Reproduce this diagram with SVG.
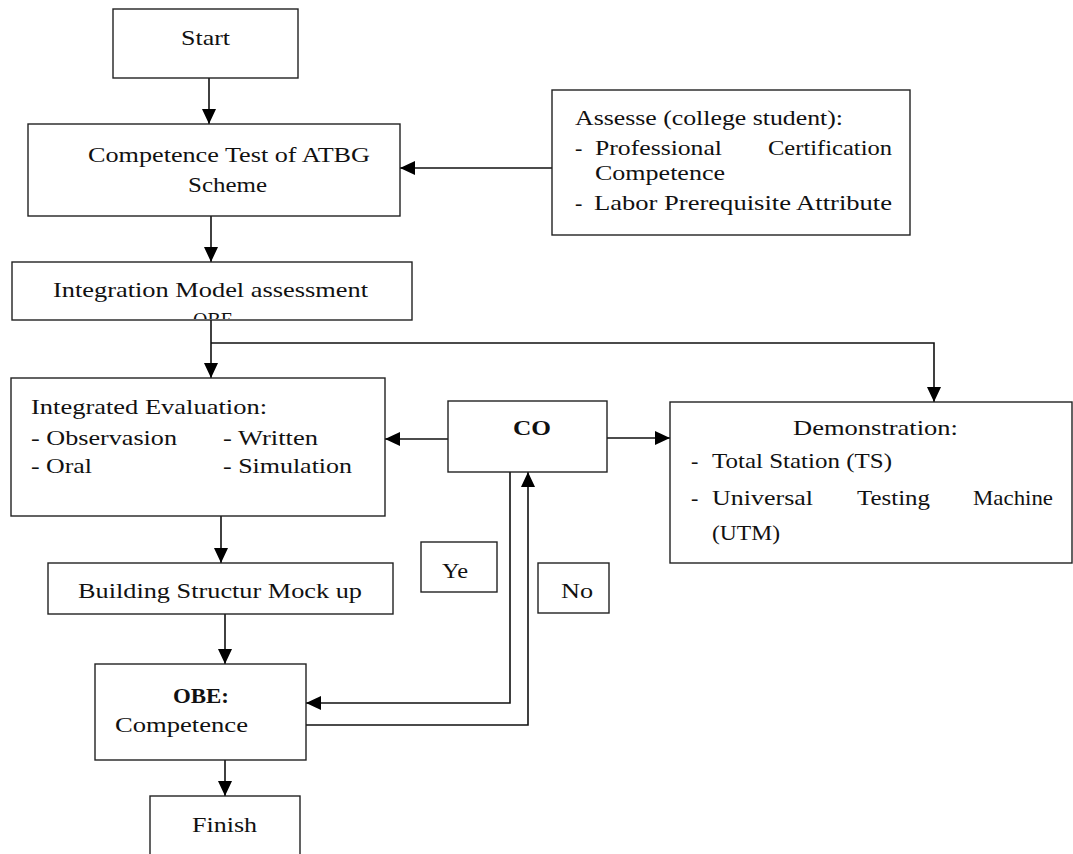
<svg xmlns="http://www.w3.org/2000/svg" width="1073" height="854" viewBox="0 0 1073 854">
<style>
.box{fill:#fff;stroke:#222;stroke-width:1.4}
.t{font-family:"Liberation Serif","Times New Roman",serif;font-size:22px;fill:#111}
.b{font-weight:bold}
.c{fill:none;stroke:#111;stroke-width:1.6}
</style>
<defs>
<marker id="ah" markerUnits="userSpaceOnUse" markerWidth="16" markerHeight="14" refX="15" refY="7" orient="auto">
<path d="M0,0 L15,7 L0,14 z" fill="#000"/>
</marker>
<clipPath id="clipInt"><rect x="12" y="262" width="400" height="57"/></clipPath>
</defs>
<rect width="1073" height="854" fill="#fff"/>

<g id="connectors">
<line class="c" x1="209" y1="78" x2="209" y2="124" marker-end="url(#ah)"/>
<line class="c" x1="211" y1="216" x2="211" y2="262" marker-end="url(#ah)"/>
<line class="c" x1="211" y1="320" x2="211" y2="378" marker-end="url(#ah)"/>
<polyline class="c" points="211,343 934,343 934,402" marker-end="url(#ah)"/>
<line class="c" x1="552" y1="168" x2="400" y2="168" marker-end="url(#ah)"/>
<line class="c" x1="448" y1="439" x2="385" y2="439" marker-end="url(#ah)"/>
<line class="c" x1="607" y1="438" x2="670" y2="438" marker-end="url(#ah)"/>
<line class="c" x1="221" y1="516" x2="221" y2="563" marker-end="url(#ah)"/>
<line class="c" x1="225" y1="614" x2="225" y2="664" marker-end="url(#ah)"/>
<polyline class="c" points="510,472 510,703 306,703" marker-end="url(#ah)"/>
<polyline class="c" points="306,725 528,725 528,472" marker-end="url(#ah)"/>
<line class="c" x1="225" y1="760" x2="225" y2="796" marker-end="url(#ah)"/>
</g>

<g id="start">
<rect class="box" x="113" y="9" width="185" height="69"/>
<text class="t" x="181" y="45" textLength="49" lengthAdjust="spacingAndGlyphs">Start</text>
</g>

<g id="competence-test">
<rect class="box" x="28" y="124" width="372" height="92"/>
<text class="t" x="88" y="162" textLength="282" lengthAdjust="spacingAndGlyphs">Competence Test of ATBG</text>
<text class="t" x="188" y="192" textLength="79" lengthAdjust="spacingAndGlyphs">Scheme</text>
</g>

<g id="assesse">
<rect class="box" x="552" y="90" width="358" height="145"/>
<text class="t" x="575" y="125" textLength="268" lengthAdjust="spacingAndGlyphs">Assesse (college student):</text>
<text class="t" x="575" y="155">-</text>
<text class="t" x="595" y="155" textLength="127" lengthAdjust="spacingAndGlyphs">Professional</text>
<text class="t" x="768" y="155" textLength="124" lengthAdjust="spacingAndGlyphs">Certification</text>
<text class="t" x="595" y="180" textLength="130" lengthAdjust="spacingAndGlyphs">Competence</text>
<text class="t" x="575" y="210">-</text>
<text class="t" x="594" y="210" textLength="298" lengthAdjust="spacingAndGlyphs">Labor Prerequisite Attribute</text>
</g>

<g id="integration-model">
<rect class="box" x="12" y="262" width="400" height="58"/>
<text class="t" x="53" y="297" textLength="315" lengthAdjust="spacingAndGlyphs">Integration Model assessment</text>
<text class="t" x="193" y="327" textLength="40" lengthAdjust="spacingAndGlyphs" clip-path="url(#clipInt)">OBE</text>
</g>

<g id="integrated-evaluation">
<rect class="box" x="11" y="378" width="374" height="138"/>
<text class="t" x="31" y="414" textLength="236" lengthAdjust="spacingAndGlyphs">Integrated Evaluation:</text>
<text class="t" x="31" y="445" textLength="146" lengthAdjust="spacingAndGlyphs">- Observasion</text>
<text class="t" x="223" y="445" textLength="95" lengthAdjust="spacingAndGlyphs">- Written</text>
<text class="t" x="31" y="473" textLength="61" lengthAdjust="spacingAndGlyphs">- Oral</text>
<text class="t" x="223" y="473" textLength="129" lengthAdjust="spacingAndGlyphs">- Simulation</text>
</g>

<g id="co">
<rect class="box" x="448" y="401" width="159" height="71"/>
<text class="t b" x="513" y="435" textLength="38" lengthAdjust="spacingAndGlyphs">CO</text>
</g>

<g id="demonstration">
<rect class="box" x="670" y="402" width="402" height="161"/>
<text class="t" x="793" y="435" textLength="165" lengthAdjust="spacingAndGlyphs">Demonstration:</text>
<text class="t" x="691" y="468">-</text>
<text class="t" x="712" y="468" textLength="180" lengthAdjust="spacingAndGlyphs">Total Station (TS)</text>
<text class="t" x="691" y="505">-</text>
<text class="t" x="712" y="505" textLength="101" lengthAdjust="spacingAndGlyphs">Universal</text>
<text class="t" x="857" y="505" textLength="73" lengthAdjust="spacingAndGlyphs">Testing</text>
<text class="t" x="973" y="505" textLength="80" lengthAdjust="spacingAndGlyphs">Machine</text>
<text class="t" x="712" y="540" textLength="68" lengthAdjust="spacingAndGlyphs">(UTM)</text>
</g>

<g id="yes-label">
<rect class="box" x="421" y="542" width="76" height="50"/>
<text class="t" x="442" y="578" textLength="26" lengthAdjust="spacingAndGlyphs">Ye</text>
</g>

<g id="no-label">
<rect class="box" x="538" y="563" width="71" height="50"/>
<text class="t" x="561" y="598" textLength="32" lengthAdjust="spacingAndGlyphs">No</text>
</g>

<g id="building-mockup">
<rect class="box" x="48" y="563" width="345" height="51"/>
<text class="t" x="78" y="598" textLength="284" lengthAdjust="spacingAndGlyphs">Building Structur Mock up</text>
</g>

<g id="obe-competence">
<rect class="box" x="95" y="664" width="211" height="96"/>
<text class="t b" x="173" y="703" textLength="56" lengthAdjust="spacingAndGlyphs">OBE:</text>
<text class="t" x="115" y="732" textLength="133" lengthAdjust="spacingAndGlyphs">Competence</text>
</g>

<g id="finish">
<rect class="box" x="150" y="796" width="150" height="70"/>
<text class="t" x="192" y="832" textLength="65" lengthAdjust="spacingAndGlyphs">Finish</text>
</g>
</svg>
